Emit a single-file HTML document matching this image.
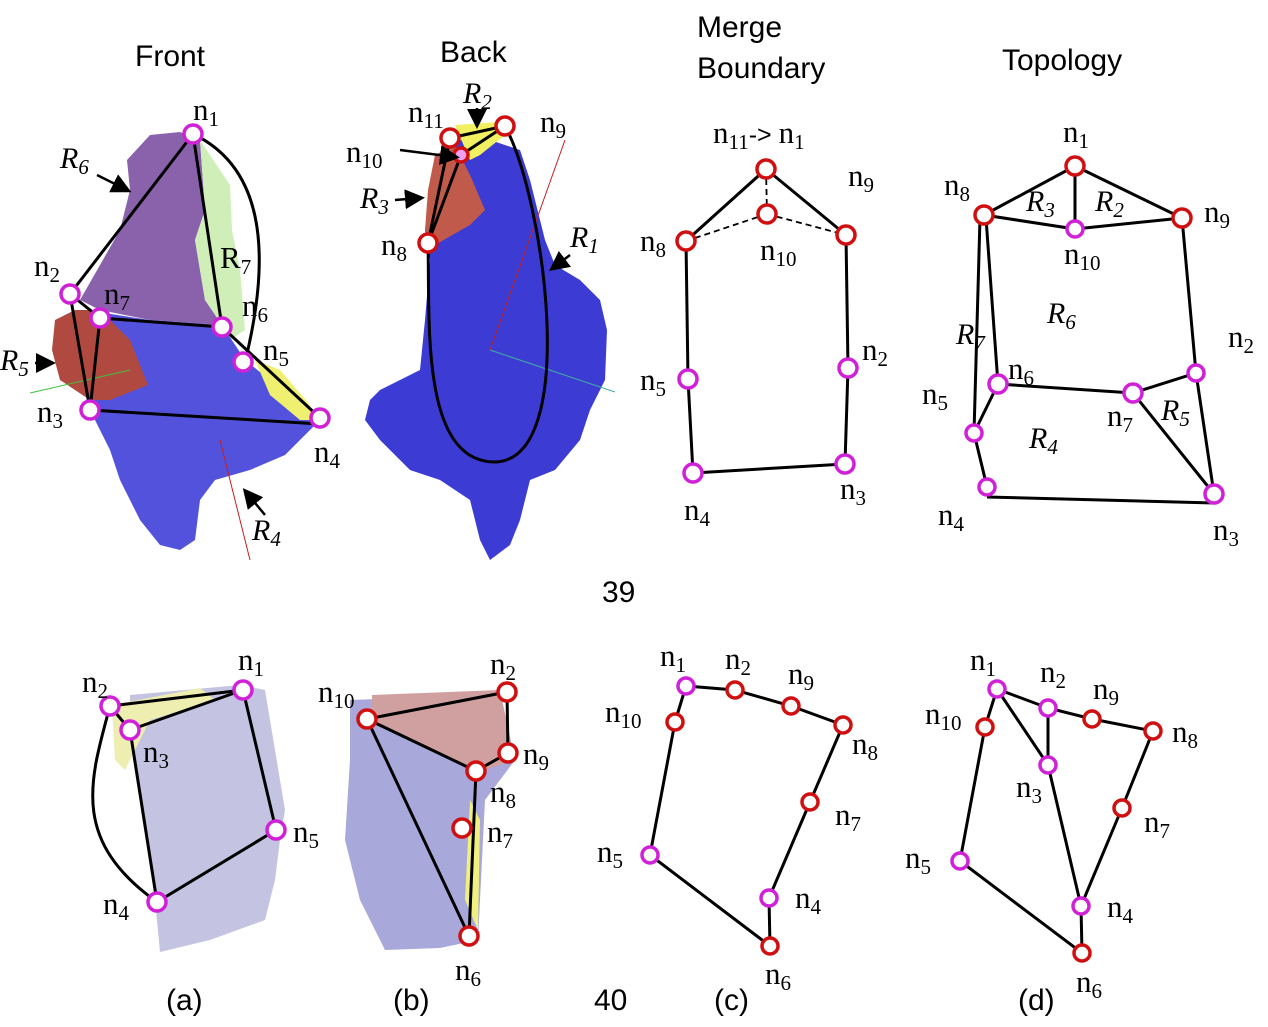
<!DOCTYPE html>
<html><head><meta charset="utf-8"><style>
html,body{margin:0;padding:0;background:#fff}
svg{display:block}
.t{font-family:"Liberation Sans",sans-serif;font-size:30px;fill:#000}
.n{font-family:"Liberation Serif",serif;font-size:31px;fill:#000}
.r{font-family:"Liberation Serif",serif;font-size:30px;font-style:italic;fill:#000}
.s{font-size:21px}
.e{stroke:#000;stroke-width:3;fill:none}
.m{stroke:#d020d8;stroke-width:3.5;fill:#fff}
.d{stroke:#d01010;stroke-width:3.5;fill:#fff}
</style></head><body>
<svg width="1268" height="1027" viewBox="0 0 1268 1027" xmlns="http://www.w3.org/2000/svg">
<defs>
<marker id="ar" markerWidth="8" markerHeight="8" refX="6" refY="4" orient="auto"><path d="M0,0 L8,4 L0,8 z" fill="#000"/></marker>
</defs>
<text class="t" x="135" y="66">Front</text>
<text class="t" x="440" y="62">Back</text>
<text class="t" x="697" y="37">Merge</text>
<text class="t" x="697" y="78">Boundary</text>
<text class="t" x="1002" y="70">Topology</text>
<text class="t" x="602" y="602">39</text>

<polygon fill="#8a62ac" points="127,160 150,135 180,132 200,140 205,210 195,240 205,300 222,325 150,320 100,310 80,300 120,230 130,190"/>
<polygon fill="#cfeeb8" points="200,140 230,185 232,230 240,270 245,330 230,340 222,325 205,300 195,240 205,210"/>
<polygon fill="#5252dc" points="85,310 150,320 222,325 245,360 270,380 300,400 320,420 300,440 285,455 250,470 215,480 200,500 195,540 180,550 160,545 140,520 120,480 110,450 95,420 90,400 140,380 110,330"/>
<polygon fill="#b04a40" points="55,320 75,310 100,310 130,340 148,385 110,400 90,400 60,380 52,350"/>
<polygon fill="#f0f070" points="255,360 280,370 310,405 315,420 300,420 270,395"/>
<line x1="30" y1="393" x2="130" y2="370" stroke="#40c040" stroke-width="1"/>
<line x1="220" y1="440" x2="250" y2="560" stroke="#c02020" stroke-width="1"/>
<g class="e">
<line x1="193" y1="134" x2="70" y2="294"/>
<line x1="193" y1="134" x2="222" y2="327"/>
<path d="M193,134 Q290,180 245,362"/>
<line x1="222" y1="327" x2="320" y2="418"/>
<line x1="70" y1="294" x2="100" y2="318"/>
<line x1="70" y1="294" x2="90" y2="410"/>
<line x1="100" y1="318" x2="222" y2="327"/>
<line x1="100" y1="318" x2="90" y2="410"/>
<line x1="90" y1="410" x2="320" y2="424"/>
</g>
<g class="m">
<circle cx="193" cy="134" r="9"/><circle cx="70" cy="294" r="9"/><circle cx="100" cy="318" r="9"/><circle cx="222" cy="327" r="9"/><circle cx="243" cy="362" r="9"/><circle cx="90" cy="410" r="9"/><circle cx="320" cy="418" r="9"/>
</g>
<text class="n" x="193" y="120">n<tspan class="s" dy="6">1</tspan></text>
<text class="n" x="34" y="276">n<tspan class="s" dy="6">2</tspan></text>
<text class="n" x="104" y="304">n<tspan class="s" dy="6">7</tspan></text>
<text class="n" x="242" y="316">n<tspan class="s" dy="6">6</tspan></text>
<text class="n" x="263" y="360">n<tspan class="s" dy="6">5</tspan></text>
<text class="n" x="37" y="422">n<tspan class="s" dy="6">3</tspan></text>
<text class="n" x="314" y="462">n<tspan class="s" dy="6">4</tspan></text>
<text class="n" x="220" y="268">R<tspan class="s" dy="6">7</tspan></text>
<text class="r" x="60" y="168">R<tspan class="s" dy="6">6</tspan></text>
<line x1="97" y1="175" x2="127" y2="190" stroke="#000" stroke-width="2.5" marker-end="url(#ar)"/>
<text class="r" x="0" y="370">R<tspan class="s" dy="6">5</tspan></text>
<line x1="35" y1="363" x2="51" y2="363" stroke="#000" stroke-width="2.5" marker-end="url(#ar)"/>
<text class="r" x="252" y="540">R<tspan class="s" dy="6">4</tspan></text>
<line x1="265" y1="515" x2="246" y2="492" stroke="#000" stroke-width="2.5" marker-end="url(#ar)"/>

<polygon fill="#3c3cd4" points="490,140 520,150 530,180 545,240 555,265 580,280 600,300 607,330 605,380 590,410 580,440 555,470 530,480 520,520 510,545 490,560 480,540 470,500 440,480 410,470 380,440 365,420 370,400 380,390 400,380 420,370 425,320 430,260 425,230 435,160 455,140"/>
<polygon fill="#c05a4a" points="435,155 455,145 470,175 485,210 470,225 435,245 425,230 428,190"/>
<polygon fill="#f0f060" points="455,125 500,122 505,135 480,155 470,160"/>
<line x1="565" y1="140" x2="490" y2="350" stroke="#c02020" stroke-width="1"/>
<line x1="490" y1="350" x2="615" y2="392" stroke="#40b0a0" stroke-width="1"/>
<g class="e">
<line x1="450" y1="138" x2="505" y2="126"/>
<line x1="450" y1="138" x2="428" y2="243"/>
<line x1="461" y1="155" x2="428" y2="243"/>
<line x1="461" y1="155" x2="505" y2="126"/>
<path d="M505,126 C545,200 580,460 495,462 C420,462 430,320 428,243"/>
</g>
<g class="d"><circle cx="450" cy="138" r="9"/><circle cx="505" cy="126" r="9"/><circle cx="428" cy="243" r="9"/></g>
<circle cx="461" cy="155" r="7" fill="#f0a0f0" stroke="#d01010" stroke-width="3.5"/>
<text class="n" x="408" y="122">n<tspan class="s" dy="6">11</tspan></text>
<text class="n" x="346" y="162">n<tspan class="s" dy="6">10</tspan></text>
<line x1="400" y1="150" x2="455" y2="157" stroke="#000" stroke-width="2.5" marker-end="url(#ar)"/>
<text class="n" x="540" y="132">n<tspan class="s" dy="6">9</tspan></text>
<text class="n" x="381" y="255">n<tspan class="s" dy="6">8</tspan></text>
<text class="r" x="463" y="103">R<tspan class="s" dy="6">2</tspan></text>
<line x1="477" y1="108" x2="477" y2="124" stroke="#000" stroke-width="2.5" marker-end="url(#ar)"/>
<text class="r" x="360" y="208">R<tspan class="s" dy="6">3</tspan></text>
<line x1="395" y1="200" x2="420" y2="198" stroke="#000" stroke-width="2.5" marker-end="url(#ar)"/>
<text class="r" x="570" y="247">R<tspan class="s" dy="6">1</tspan></text>
<line x1="570" y1="255" x2="553" y2="268" stroke="#000" stroke-width="2.5" marker-end="url(#ar)"/>

<g class="e">
<line x1="686" y1="241" x2="766" y2="169"/><line x1="766" y1="169" x2="846" y2="235"/>
<line x1="686" y1="241" x2="688" y2="379"/><line x1="688" y1="379" x2="693" y2="473"/>
<line x1="693" y1="473" x2="845" y2="464"/><line x1="845" y1="464" x2="848" y2="368"/><line x1="848" y1="368" x2="846" y2="235"/>
</g>
<g stroke="#000" stroke-width="1.8" stroke-dasharray="6,4" fill="none">
<line x1="766" y1="169" x2="767" y2="214"/><line x1="767" y1="214" x2="686" y2="241"/><line x1="767" y1="214" x2="846" y2="235"/>
</g>
<g class="d"><circle cx="766" cy="169" r="9"/><circle cx="767" cy="214" r="9"/><circle cx="686" cy="241" r="9"/><circle cx="846" cy="235" r="9"/></g>
<g class="m"><circle cx="848" cy="368" r="9"/><circle cx="688" cy="379" r="9"/><circle cx="845" cy="464" r="9"/><circle cx="693" cy="473" r="9"/></g>
<text class="n" x="713" y="143">n<tspan class="s" dy="6">11</tspan><tspan dy="-6" font-family="Liberation Sans" font-size="25">-&gt; </tspan>n<tspan class="s" dy="6">1</tspan></text>
<text class="n" x="848" y="186">n<tspan class="s" dy="6">9</tspan></text>
<text class="n" x="640" y="251">n<tspan class="s" dy="6">8</tspan></text>
<text class="n" x="760" y="260">n<tspan class="s" dy="6">10</tspan></text>
<text class="n" x="862" y="360">n<tspan class="s" dy="6">2</tspan></text>
<text class="n" x="640" y="390">n<tspan class="s" dy="6">5</tspan></text>
<text class="n" x="840" y="499">n<tspan class="s" dy="6">3</tspan></text>
<text class="n" x="684" y="520">n<tspan class="s" dy="6">4</tspan></text>

<g class="e">
<line x1="984" y1="215" x2="1075" y2="166"/><line x1="1075" y1="166" x2="1182" y2="218"/><line x1="1075" y1="166" x2="1075" y2="229"/>
<line x1="984" y1="215" x2="1075" y2="229"/><line x1="1075" y1="229" x2="1182" y2="218"/>
<line x1="980" y1="218" x2="974" y2="433"/><line x1="986" y1="218" x2="998" y2="384"/>
<line x1="1182" y1="218" x2="1196" y2="373"/>
<line x1="998" y1="384" x2="1133" y2="393"/><line x1="1133" y1="393" x2="1196" y2="373"/>
<line x1="1133" y1="393" x2="1214" y2="494"/><line x1="1196" y1="373" x2="1214" y2="494"/>
<line x1="974" y1="433" x2="998" y2="384"/><line x1="974" y1="433" x2="987" y2="487"/>
<line x1="987" y1="497" x2="1214" y2="503"/>
</g>
<g class="d"><circle cx="1075" cy="166" r="9"/><circle cx="984" cy="215" r="9"/><circle cx="1182" cy="218" r="9"/></g>
<g class="m"><circle cx="1075" cy="229" r="8"/><circle cx="998" cy="384" r="9"/><circle cx="1133" cy="393" r="9"/><circle cx="1196" cy="373" r="8"/><circle cx="974" cy="433" r="8"/><circle cx="987" cy="487" r="8"/><circle cx="1214" cy="494" r="9"/></g>
<text class="n" x="1063" y="142">n<tspan class="s" dy="6">1</tspan></text>
<text class="n" x="944" y="195">n<tspan class="s" dy="6">8</tspan></text>
<text class="n" x="1204" y="222">n<tspan class="s" dy="6">9</tspan></text>
<text class="n" x="1064" y="264">n<tspan class="s" dy="6">10</tspan></text>
<text class="n" x="1228" y="347">n<tspan class="s" dy="6">2</tspan></text>
<text class="n" x="1008" y="379">n<tspan class="s" dy="6">6</tspan></text>
<text class="n" x="922" y="404">n<tspan class="s" dy="6">5</tspan></text>
<text class="n" x="1107" y="426">n<tspan class="s" dy="6">7</tspan></text>
<text class="n" x="938" y="525">n<tspan class="s" dy="6">4</tspan></text>
<text class="n" x="1213" y="540">n<tspan class="s" dy="6">3</tspan></text>
<text class="r" x="1026" y="211">R<tspan class="s" dy="6">3</tspan></text>
<text class="r" x="1095" y="211">R<tspan class="s" dy="6">2</tspan></text>
<text class="r" x="1047" y="323">R<tspan class="s" dy="6">6</tspan></text>
<text class="r" x="956" y="344">R<tspan class="s" dy="6">7</tspan></text>
<text class="r" x="1161" y="420">R<tspan class="s" dy="6">5</tspan></text>
<text class="r" x="1029" y="448">R<tspan class="s" dy="6">4</tspan></text>

<polygon fill="#c4c4e2" points="130,695 240,685 265,690 285,810 280,840 275,880 265,920 210,940 160,952 155,900 130,740"/>
<polygon fill="#eeeeb0" points="112,705 200,688 215,700 150,720 125,770 115,760"/>
<g class="e">
<line x1="110" y1="706" x2="243" y2="690"/><line x1="130" y1="730" x2="243" y2="690"/><line x1="110" y1="706" x2="130" y2="730"/>
<line x1="243" y1="690" x2="276" y2="830"/><line x1="276" y1="830" x2="157" y2="902"/><line x1="130" y1="730" x2="157" y2="902"/>
<path d="M110,706 C90,780 70,840 157,902"/>
</g>
<g class="m"><circle cx="243" cy="690" r="9"/><circle cx="110" cy="706" r="9"/><circle cx="130" cy="730" r="9"/><circle cx="276" cy="830" r="9"/><circle cx="157" cy="902" r="9"/></g>
<text class="n" x="238" y="670">n<tspan class="s" dy="6">1</tspan></text>
<text class="n" x="82" y="692">n<tspan class="s" dy="6">2</tspan></text>
<text class="n" x="143" y="762">n<tspan class="s" dy="6">3</tspan></text>
<text class="n" x="293" y="842">n<tspan class="s" dy="6">5</tspan></text>
<text class="n" x="103" y="914">n<tspan class="s" dy="6">4</tspan></text>

<polygon fill="#a8a8da" points="350,700 500,695 515,760 485,800 478,940 440,948 385,950 360,900 345,840 350,760"/>
<polygon fill="#d0a0a0" points="372,695 500,690 515,760 478,772 372,720"/>
<polygon fill="#f0f080" points="470,800 480,820 478,930 465,900"/>
<g class="e">
<line x1="367" y1="719" x2="507" y2="692"/><line x1="507" y1="692" x2="508" y2="753"/><line x1="508" y1="753" x2="476" y2="771"/>
<line x1="367" y1="719" x2="476" y2="771"/><line x1="476" y1="771" x2="469" y2="936"/><line x1="367" y1="719" x2="469" y2="936"/>
</g>
<g class="d"><circle cx="367" cy="719" r="9"/><circle cx="507" cy="692" r="9"/><circle cx="508" cy="753" r="9"/><circle cx="476" cy="771" r="9"/><circle cx="462" cy="828" r="9"/><circle cx="469" cy="936" r="9"/></g>
<text class="n" x="490" y="674">n<tspan class="s" dy="6">2</tspan></text>
<text class="n" x="318" y="702">n<tspan class="s" dy="6">10</tspan></text>
<text class="n" x="523" y="764">n<tspan class="s" dy="6">9</tspan></text>
<text class="n" x="490" y="802">n<tspan class="s" dy="6">8</tspan></text>
<text class="n" x="487" y="842">n<tspan class="s" dy="6">7</tspan></text>
<text class="n" x="455" y="980">n<tspan class="s" dy="6">6</tspan></text>

<g class="e">
<polyline points="675,722 686,686 735,690 791,706 843,725 810,802 769,898 770,946 650,855 675,722"/>
</g>
<g class="d"><circle cx="735" cy="690" r="8"/><circle cx="791" cy="706" r="8"/><circle cx="843" cy="725" r="8"/><circle cx="675" cy="722" r="8"/><circle cx="810" cy="802" r="8"/><circle cx="770" cy="946" r="8"/></g>
<g class="m"><circle cx="686" cy="686" r="8"/><circle cx="650" cy="855" r="8"/><circle cx="769" cy="898" r="8"/></g>
<text class="n" x="660" y="666">n<tspan class="s" dy="6">1</tspan></text>
<text class="n" x="725" y="669">n<tspan class="s" dy="6">2</tspan></text>
<text class="n" x="788" y="684">n<tspan class="s" dy="6">9</tspan></text>
<text class="n" x="605" y="722">n<tspan class="s" dy="6">10</tspan></text>
<text class="n" x="852" y="754">n<tspan class="s" dy="6">8</tspan></text>
<text class="n" x="835" y="825">n<tspan class="s" dy="6">7</tspan></text>
<text class="n" x="597" y="862">n<tspan class="s" dy="6">5</tspan></text>
<text class="n" x="795" y="908">n<tspan class="s" dy="6">4</tspan></text>
<text class="n" x="765" y="984">n<tspan class="s" dy="6">6</tspan></text>

<g class="e">
<polyline points="985,727 997,689 1048,708 1092,719 1153,731 1122,808 1081,906 1082,953 960,861 985,727"/>
<line x1="997" y1="689" x2="1048" y2="765"/><line x1="1048" y1="708" x2="1048" y2="765"/><line x1="1048" y1="765" x2="1081" y2="906"/>
</g>
<g class="d"><circle cx="1092" cy="719" r="8"/><circle cx="1153" cy="731" r="8"/><circle cx="985" cy="727" r="8"/><circle cx="1122" cy="808" r="8"/><circle cx="1082" cy="953" r="8"/></g>
<g class="m"><circle cx="997" cy="689" r="8"/><circle cx="1048" cy="708" r="8"/><circle cx="1048" cy="765" r="8"/><circle cx="960" cy="861" r="8"/><circle cx="1081" cy="906" r="8"/></g>
<text class="n" x="970" y="670">n<tspan class="s" dy="6">1</tspan></text>
<text class="n" x="1040" y="682">n<tspan class="s" dy="6">2</tspan></text>
<text class="n" x="1093" y="699">n<tspan class="s" dy="6">9</tspan></text>
<text class="n" x="925" y="724">n<tspan class="s" dy="6">10</tspan></text>
<text class="n" x="1172" y="742">n<tspan class="s" dy="6">8</tspan></text>
<text class="n" x="1016" y="797">n<tspan class="s" dy="6">3</tspan></text>
<text class="n" x="1144" y="832">n<tspan class="s" dy="6">7</tspan></text>
<text class="n" x="905" y="868">n<tspan class="s" dy="6">5</tspan></text>
<text class="n" x="1107" y="917">n<tspan class="s" dy="6">4</tspan></text>
<text class="n" x="1076" y="992">n<tspan class="s" dy="6">6</tspan></text>

<text class="t" x="166" y="1010">(a)</text>
<text class="t" x="393" y="1010">(b)</text>
<text class="t" x="594" y="1010">40</text>
<text class="t" x="714" y="1010">(c)</text>
<text class="t" x="1018" y="1010">(d)</text>
</svg>
</body></html>
